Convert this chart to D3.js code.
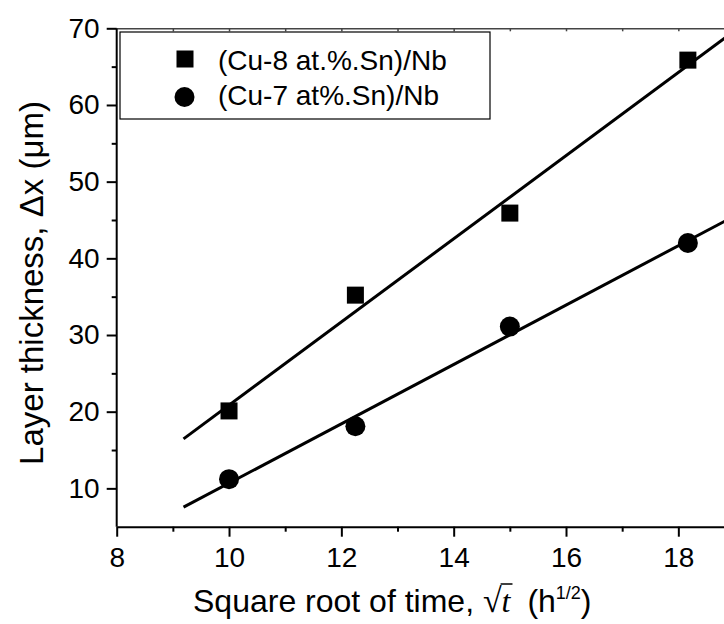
<!DOCTYPE html>
<html><head><meta charset="utf-8">
<script src="https://cdn.jsdelivr.net/npm/d3@7"></script>
<style>body{margin:0;background:#fff} svg{display:block;font-family:"Liberation Sans",Arial,sans-serif}</style>
</head><body><svg id="c" width="724" height="624"></svg>
<script>
// ---- data ----
const sqrtTime = [10, 12.25, 15, 18.17];
const cu8Thickness = [20.1, 35.2, 45.9, 65.85];
const cu7Thickness = [11.2, 18.1, 31.1, 42.0];
const seriesNames = ["(Cu-8 at.%.Sn)/Nb", "(Cu-7 at%.Sn)/Nb"];
const xTicks = [8, 10, 12, 14, 16, 18];
const xMinorTicks = [9, 11, 13, 15, 17];
const yTicks = [10, 20, 30, 40, 50, 60, 70];
const yMinorTicks = [15, 25, 35, 45, 55, 65];
const fitRange = [9.19, 19];

const svg = d3.select("#c");
const x = d3.scaleLinear().domain([8, 19]).range([116.7, 734.5]);
const y = d3.scaleLinear().domain([5, 70]).range([526.7, 28.3]);

// least-squares fit
function fit(xs, ys) {
  const mx = d3.mean(xs), my = d3.mean(ys);
  let sxy = 0, sxx = 0;
  xs.forEach((v, i) => { sxy += (v - mx) * (ys[i] - my); sxx += (v - mx) ** 2; });
  const b = sxy / sxx, a = my - b * mx;
  return v => a + b * v;
}

function styleAxis(g) {
  g.attr("font-family", null).attr("font-size", null);
  g.selectAll("path,line").attr("stroke", "#000").attr("stroke-width", 2);
  g.selectAll("text").attr("font-size", 28).attr("fill", "#000");
}

// top axis
const gt = svg.append("g").attr("transform", `translate(0,${y(70)})`)
  .call(d3.axisTop(x).tickValues(d3.range(9, 19)).tickSize(-3).tickSizeOuter(0).tickFormat(""));
gt.selectAll("path,line").attr("stroke", "#444").attr("stroke-width", 1.5);

// bottom axis
const gbMinor = svg.append("g").attr("transform", `translate(0,${y(5)})`)
  .call(d3.axisBottom(x).tickValues(xMinorTicks).tickSize(5).tickSizeOuter(0).tickFormat(""));
gbMinor.select(".domain").remove();
styleAxis(gbMinor);
const gb = svg.append("g").attr("transform", `translate(0,${y(5)})`)
  .call(d3.axisBottom(x).tickValues(xTicks).tickSize(10).tickPadding(10).tickSizeOuter(0));
styleAxis(gb);

// left axis
const glMinor = svg.append("g").attr("transform", `translate(${x(8)},0)`)
  .call(d3.axisLeft(y).tickValues(yMinorTicks).tickSize(5).tickSizeOuter(0).tickFormat(""));
glMinor.select(".domain").remove();
styleAxis(glMinor);
const gl = svg.append("g").attr("transform", `translate(${x(8)},0)`)
  .call(d3.axisLeft(y).tickValues(yTicks).tickSize(10).tickPadding(7).tickSizeOuter(0));
styleAxis(gl);
gl.select(".domain").attr("d", `M0,${y(70)}V${y(5)}`);

// fit lines
[cu8Thickness, cu7Thickness].forEach(ys => {
  const f = fit(sqrtTime, ys);
  svg.append("line")
    .attr("x1", x(fitRange[0])).attr("y1", y(f(fitRange[0])))
    .attr("x2", x(fitRange[1])).attr("y2", y(f(fitRange[1])))
    .attr("stroke", "#000").attr("stroke-width", 3);
});

// markers
const sq = 17;
svg.append("g").selectAll("rect").data(sqrtTime).join("rect")
  .attr("x", (d) => x(d) - sq / 2).attr("y", (d, i) => y(cu8Thickness[i]) - sq / 2)
  .attr("width", sq).attr("height", sq).attr("fill", "#000");
svg.append("g").selectAll("circle").data(sqrtTime).join("circle")
  .attr("cx", d => x(d)).attr("cy", (d, i) => y(cu7Thickness[i])).attr("r", 10).attr("fill", "#000");

// legend
svg.append("rect").attr("x", 120).attr("y", 32).attr("width", 370).attr("height", 87)
  .attr("fill", "#fff").attr("stroke", "#000").attr("stroke-width", 1.2);
svg.append("rect").attr("x", 185 - sq / 2).attr("y", 59 - sq / 2).attr("width", sq).attr("height", sq).attr("fill", "#000");
svg.append("circle").attr("cx", 184.5).attr("cy", 97).attr("r", 10).attr("fill", "#000");
svg.append("text").attr("x", 218).attr("y", 70).attr("font-size", 28).text(seriesNames[0]);
svg.append("text").attr("x", 218).attr("y", 105).attr("font-size", 28).text(seriesNames[1]);

// y title
svg.append("text").attr("transform", "translate(43,283) rotate(-90)")
  .attr("text-anchor", "middle").attr("font-size", 33).text("Layer thickness, \u0394x (\u03bcm)");

// x title
const xt = svg.append("text").attr("x", 193).attr("y", 612).attr("font-size", 32);
xt.append("tspan").text("Square root of time, ");
xt.append("tspan").attr("font-family", "'Liberation Serif','DejaVu Serif',serif").attr("font-size", 34).text("\u221a");
xt.append("tspan").attr("font-family", "'Liberation Serif',serif").attr("font-style", "italic").text("t");
xt.append("tspan").attr("dx", 8).text(" (h");
xt.append("tspan").attr("font-size", 18).attr("dy", -13).text("1/2");
xt.append("tspan").attr("dy", 13).text(")");
const node = xt.node();
const full = node.textContent;
const iS = full.indexOf("\u221a"), iT = iS + 1;
const eS = node.getExtentOfChar(iS), eT = node.getExtentOfChar(iT);
svg.append("line").attr("x1", eS.x + eS.width - 1).attr("x2", eT.x + eT.width + 2)
  .attr("y1", eS.y + 2).attr("y2", eS.y + 2).attr("stroke", "#000").attr("stroke-width", 1.5);
</script></body></html>
